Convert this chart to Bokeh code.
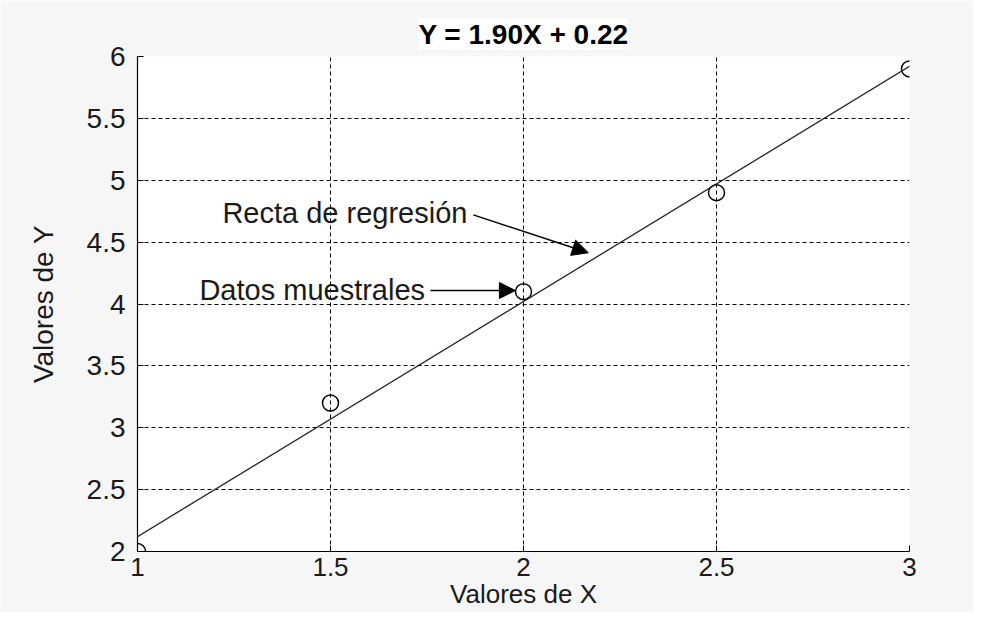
from bokeh.plotting import figure
from bokeh.models import (Range1d, FixedTicker, NumeralTickFormatter, Slope, Label,
                          Arrow, NormalHead, ColumnDataSource)
from bokeh.embed import file_html
from bokeh.resources import INLINE

# ---- data ----
x_vals = [1.0, 1.5, 2.0, 2.5, 3.0]
y_vals = [2.0, 3.2, 4.1, 4.9, 5.9]
fit_slope = 1.90
fit_intercept = 0.22
x_ticks = [1, 1.5, 2, 2.5, 3]
y_ticks = [2, 2.5, 3, 3.5, 4, 4.5, 5, 5.5, 6]
title_text = "Y = 1.90X + 0.22"
x_label = "Valores de X"
y_label = "Valores de Y"
ann_texts = ["Recta de regresión", "Datos muestrales"]
ann_text_x = [1.220, 1.745]
ann_text_y = [4.736, 4.117]
ann_text_align = ["left", "right"]
arrow_x_start = [1.870, 1.759]
arrow_y_start = [4.720, 4.109]
arrow_x_end = [2.168, 1.979]
arrow_y_end = [4.414, 4.109]

FONT = "Liberation Sans"
TXT = "#1a1a1a"

p = figure(width=973, height=612, output_backend="svg", toolbar_location=None,
           x_range=Range1d(1, 3), y_range=Range1d(2, 6),
           min_border_left=137, min_border_right=64, min_border_top=56, min_border_bottom=61)
p.background_fill_color = "white"
p.border_fill_color = "#f6f6f6"
p.outline_line_color = None

p.title.text = title_text
p.title.align = "center"
p.title.text_font = FONT
p.title.text_font_size = "28px"
p.title.text_font_style = "bold"
p.title.text_color = "black"
p.title.background_fill_color = "white"
p.title.standoff = 14

for ax in (p.xaxis[0], p.yaxis[0]):
    ax.axis_line_color = "black"
    ax.axis_line_width = 1.2
    ax.major_tick_in = 6
    ax.major_tick_out = 0
    ax.minor_tick_line_color = None
    ax.major_tick_line_color = "black"
    ax.major_label_text_font = FONT
    ax.major_label_text_font_size = "28px"
    ax.major_label_text_color = TXT
    ax.axis_label_text_font = FONT
    ax.axis_label_text_font_size = "28px"
    ax.axis_label_text_font_style = "normal"
    ax.axis_label_text_color = TXT
    ax.formatter = NumeralTickFormatter(format="0.[0]")

p.xaxis[0].major_label_text_font_size = "26px"
p.xaxis[0].axis_label_text_font_size = "26px"
p.xaxis[0].ticker = FixedTicker(ticks=x_ticks)
p.yaxis[0].ticker = FixedTicker(ticks=y_ticks)
p.xaxis[0].axis_label = x_label
p.yaxis[0].axis_label = y_label
p.xaxis[0].major_label_standoff = 6
p.xaxis[0].axis_label_standoff = 0
p.yaxis[0].major_label_standoff = 12
p.yaxis[0].axis_label_standoff = 25

p.grid.grid_line_color = "black"
p.grid.grid_line_dash = "4 3"
p.grid.grid_line_width = 1
p.xgrid.ticker = FixedTicker(ticks=x_ticks)
p.ygrid.ticker = FixedTicker(ticks=y_ticks)

p.add_layout(Slope(gradient=fit_slope, y_intercept=fit_intercept,
                   line_color="#222222", line_width=1.3))

src = ColumnDataSource(dict(x=x_vals, y=y_vals))
p.scatter("x", "y", source=src, marker="circle", size=16, fill_color=None,
          line_color="black", line_width=1.5)

for t, tx, ty, al in zip(ann_texts, ann_text_x, ann_text_y, ann_text_align):
    p.add_layout(Label(x=tx, y=ty, text=t, text_align=al, text_baseline="middle",
                       text_font=FONT, text_font_size="29px", text_color=TXT))

for xs, ys, xe, ye in zip(arrow_x_start, arrow_y_start, arrow_x_end, arrow_y_end):
    p.add_layout(Arrow(x_start=xs, y_start=ys, x_end=xe, y_end=ye,
                       line_color="black", line_width=1.5,
                       end=NormalHead(size=16, fill_color="black", line_color="black")))

open("out.html", "w").write(file_html(p, INLINE))
